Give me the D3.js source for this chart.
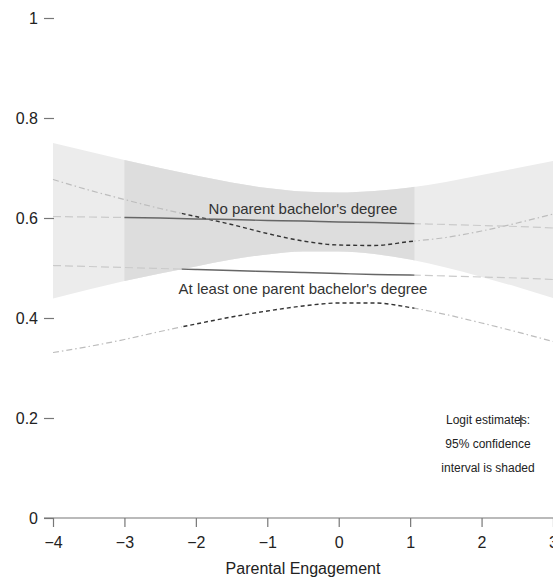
<!DOCTYPE html>
<html>
<head>
<meta charset="utf-8">
<script src="https://cdn.jsdelivr.net/npm/d3@7"></script>
<style>
  html, body { margin: 0; padding: 0; background: #fff; }
  svg { display: block; font-family: "Liberation Sans", Arial, sans-serif; }
</style>
</head>
<body>
<svg id="chart" width="553" height="578"></svg>
<script>
// ---- data ----
const xGrid = [-4, -3.5, -3, -2.5, -2, -1.5, -1, -0.5, 0, 0.5, 1, 1.5, 2, 2.5, 3];
// 95% CI (no parent bachelor's degree), logit model
const bandUpper = [0.750, 0.733, 0.716, 0.700, 0.685, 0.671, 0.660, 0.653, 0.651, 0.654, 0.661, 0.672, 0.686, 0.700, 0.714];
const bandLower = [0.439, 0.457, 0.474, 0.489, 0.503, 0.517, 0.527, 0.533, 0.533, 0.528, 0.517, 0.501, 0.482, 0.462, 0.440];
// logit estimates (solid lines)
const noParentLogit = [0.603, 0.602, 0.601, 0.600, 0.598, 0.597, 0.595, 0.594, 0.592, 0.591, 0.589, 0.587, 0.585, 0.583, 0.580];
const atLeastOneLogit = [0.505, 0.503, 0.501, 0.499, 0.497, 0.495, 0.493, 0.491, 0.489, 0.487, 0.486, 0.484, 0.482, 0.480, 0.477];
// alternative (quadratic) estimates (dashed curves)
const noParentQuad = [0.677, 0.656, 0.637, 0.619, 0.603, 0.587, 0.569, 0.554, 0.546, 0.545, 0.553, 0.561, 0.574, 0.590, 0.608];
const atLeastOneQuad = [0.331, 0.343, 0.357, 0.373, 0.388, 0.402, 0.414, 0.424, 0.430, 0.430, 0.421, 0.407, 0.390, 0.372, 0.353];
// ranges where each estimate is drawn solid / dark
const noParentRange = [-3, 1.06];
const atLeastOneRange = [-2.2, 1.06];
const quadRange = [-2.2, 1.06];
const groupLabels = ["No parent bachelor's degree", "At least one parent bachelor's degree"];
const labelPos = [[-0.5, 0.608], [-0.5, 0.449]];
const xTicks = [-4, -3, -2, -1, 0, 1, 2, 3];
const yTicks = [0, 0.2, 0.4, 0.6, 0.8, 1];
const noteLines = ["Logit estimates:", "95% confidence", "interval is shaded"];
const noteMark = [2.55, 0.206, 0.182];
const xTitle = "Parental Engagement";

// ---- drawing ----
const svg = d3.select("#chart");
const x = d3.scaleLinear().domain([-4, 3]).range([53, 553]);
const y = d3.scaleLinear().domain([0, 1]).range([518, 18]);

const defs = svg.append("defs");
function clipRange(id, a, b) {
  defs.append("clipPath").attr("id", id).append("rect")
    .attr("x", x(a)).attr("y", 0).attr("width", x(b) - x(a)).attr("height", 578);
}
function clipOutside(id, a, b) {
  const cp = defs.append("clipPath").attr("id", id);
  cp.append("rect").attr("x", 0).attr("y", 0).attr("width", x(a)).attr("height", 578);
  cp.append("rect").attr("x", x(b)).attr("y", 0).attr("width", 553 - x(b)).attr("height", 578);
}
clipRange("inNP", noParentRange[0], noParentRange[1]);
clipOutside("outNP", noParentRange[0], noParentRange[1]);
clipRange("inAL", atLeastOneRange[0], atLeastOneRange[1]);
clipOutside("outAL", atLeastOneRange[0], atLeastOneRange[1]);
clipRange("inQ", quadRange[0], quadRange[1]);
clipOutside("outQ", quadRange[0], quadRange[1]);

const bandData = xGrid.map((v, i) => ({x: v, lo: bandLower[i], hi: bandUpper[i]}));
const area = d3.area().x(d => x(d.x)).y0(d => y(d.lo)).y1(d => y(d.hi)).curve(d3.curveMonotoneX);
svg.append("path").attr("d", area(bandData)).attr("fill", "#ececec");
svg.append("path").attr("d", area(bandData)).attr("fill", "#dddddd").attr("clip-path", "url(#inNP)");

const line = d3.line().x(d => x(d[0])).y(d => y(d[1])).curve(d3.curveMonotoneX);
function pts(vals) { return xGrid.map((v, i) => [v, vals[i]]); }

// quadratic curves
[noParentQuad, atLeastOneQuad].forEach(vals => {
  svg.append("path").attr("d", line(pts(vals))).attr("fill", "none")
    .attr("stroke", "#bdbdbd").attr("stroke-width", 1.2).attr("stroke-dasharray", "6,3,1.5,3")
    .attr("clip-path", "url(#outQ)");
  svg.append("path").attr("d", line(pts(vals))).attr("fill", "none")
    .attr("stroke", "#333").attr("stroke-width", 1.4).attr("stroke-dasharray", "4,3")
    .attr("clip-path", "url(#inQ)");
});
// logit lines
[[noParentLogit, "NP"], [atLeastOneLogit, "AL"]].forEach(([vals, g]) => {
  svg.append("path").attr("d", line(pts(vals))).attr("fill", "none")
    .attr("stroke", "#cacaca").attr("stroke-width", 1.2).attr("stroke-dasharray", "8,4")
    .attr("clip-path", `url(#out${g})`);
  svg.append("path").attr("d", line(pts(vals))).attr("fill", "none")
    .attr("stroke", "#666").attr("stroke-width", 1.4)
    .attr("clip-path", `url(#in${g})`);
});

// group labels
groupLabels.forEach((t, i) => {
  svg.append("text").attr("x", x(labelPos[i][0]) ).attr("y", y(labelPos[i][1]))
    .attr("text-anchor", "middle").attr("font-size", 15).attr("fill", "#333").text(t);
});

// note
noteLines.forEach((t, i) => {
  svg.append("text").attr("x", 488).attr("y", 424 + i * 24)
    .attr("text-anchor", "middle").attr("font-size", 12).attr("fill", "#222").text(t);
});
svg.append("line").attr("x1", x(noteMark[0])).attr("x2", x(noteMark[0]))
  .attr("y1", y(noteMark[1])).attr("y2", y(noteMark[2])).attr("stroke", "#222").attr("stroke-width", 1.2);

// x axis
const xAxis = svg.append("g").attr("transform", `translate(0,${y(0)})`)
  .call(d3.axisBottom(x).tickValues(xTicks).tickSize(9).tickSizeOuter(0)
    .tickFormat(d => d < 0 ? "\u2212" + Math.abs(d) : String(d)));
xAxis.select(".domain").remove();
xAxis.append("line").attr("x1", 44).attr("x2", 553).attr("y1", 0).attr("y2", 0).attr("stroke", "#777").attr("stroke-width", 1.2);
xAxis.selectAll(".tick line").attr("stroke", "#777").attr("stroke-width", 1.2);
xAxis.selectAll(".tick text").attr("font-size", 16).attr("fill", "#222").attr("dy", "1.1em")
  .attr("font-family", "'Liberation Sans', Arial, sans-serif");

// y axis (ticks only)
const yAxis = svg.append("g").attr("transform", `translate(54,0)`)
  .call(d3.axisLeft(y).tickValues(yTicks).tickSize(10).tickPadding(6)
    .tickFormat(d => String(d)));
yAxis.select(".domain").remove();
yAxis.selectAll(".tick line").attr("stroke", "#777").attr("stroke-width", 1.2);
yAxis.selectAll(".tick text").attr("font-size", 16).attr("fill", "#222")
  .attr("font-family", "'Liberation Sans', Arial, sans-serif");

svg.append("text").attr("x", 303).attr("y", 574).attr("text-anchor", "middle")
  .attr("font-size", 16).attr("fill", "#222").text(xTitle);
</script>
</body>
</html>
